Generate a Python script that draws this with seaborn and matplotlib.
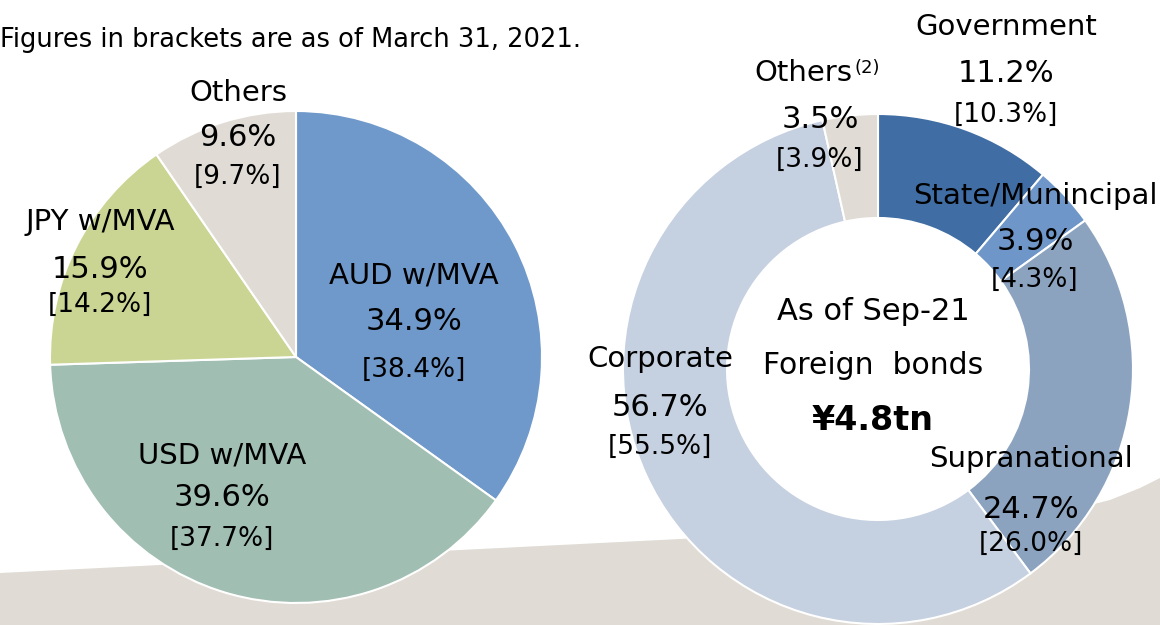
import matplotlib
matplotlib.use("Agg")
import matplotlib.pyplot as plt
import seaborn as sns
import numpy as np

# left pie: currency split
cur_labels = ["AUD w/MVA", "USD w/MVA", "JPY w/MVA", "Others"]
cur_now = [34.9, 39.6, 15.9, 9.6]
cur_prev = [38.4, 37.7, 14.2, 9.7]
cur_colors = ["#7099CB", "#A1BEB3", "#CBD593", "#E0DCD5"]

# right donut: foreign bonds by issuer
bond_labels = ["Government", "State/Munincipal", "Supranational", "Corporate", "Others"]
bond_now = [11.2, 3.9, 24.7, 56.7, 3.5]
bond_prev = [10.3, 4.3, 26.0, 55.5, 3.9]
bond_colors = ["#406DA3", "#6E96C8", "#8CA3BF", "#C5D0E0", "#E0DCD5"]

W, H = 1160, 625
sns.set_theme(style="white")
plt.rcParams["font.family"] = ["DejaVu Sans"]

fig = plt.figure(figsize=(W / 100, H / 100), dpi=100)
ax = fig.add_axes([0, 0, 1, 1])

# beige band at the bottom
bx = [0, 300, 600, 900, 1050, 1110, 1140, 1160, 1160, 0]
by = [573, 558, 543, 528, 515, 500, 488, 478, 625, 625]
ax.fill(bx, [H - v for v in by], color="#E0DCD5", zorder=0, lw=0)

ax.pie(cur_now, colors=cur_colors, startangle=90, counterclock=False,
       center=(296, H - 357), radius=246,
       wedgeprops=dict(edgecolor="white", linewidth=1.5))
ax.pie(bond_now, colors=bond_colors, startangle=90, counterclock=False,
       center=(878, H - 369), radius=255,
       wedgeprops=dict(width=104, edgecolor="white", linewidth=1.5))

ax.set_xlim(0, W)
ax.set_ylim(0, H)
ax.set_aspect("equal")
ax.axis("off")


def put(x, y, s, size=21, **kw):
    ax.text(x, H - y, s, ha="center", va="center", fontsize=size, color="black", **kw)


def block(x, ys, name, now, prev, name_text=True):
    if name_text:
        put(x, ys[0], name)
    put(x, ys[1], f"{now:.1f}%", size=22)
    put(x, ys[2], f"[{prev:.1f}%]", size=19)


ax.text(0, H - 40, "Figures in brackets are as of March 31, 2021.", ha="left", va="center",
        fontsize=18.5, color="black")

cur_pos = [(414, (276, 322, 370)), (222, (456, 498, 539)),
           (100, (222, 270, 305)), (238, (93, 137, 177))]
for (x, ys), n, a, b in zip(cur_pos, cur_labels, cur_now, cur_prev):
    block(x, ys, n, a, b)

bond_pos = [(1006, (27, 73, 115)), (1035, (196, 241, 280)), (1031, (459, 509, 544)),
            (660, (359, 407, 447)), (820, (73, 120, 160))]
for (x, ys), n, a, b in zip(bond_pos, bond_labels, bond_now, bond_prev):
    block(x, ys, n, a, b, name_text=(n != "Others"))
ax.text(852, H - 73, "Others", ha="right", va="center", fontsize=21, color="black")
ax.text(854, H - 68, "(2)", ha="left", va="center", fontsize=13, color="black")

put(873, 312, "As of Sep-21", size=22)
put(873, 365, "Foreign  bonds", size=21.5)
put(873, 420, "¥4.8tn", size=24, fontweight="bold")

fig.savefig("out.png", dpi=100)
